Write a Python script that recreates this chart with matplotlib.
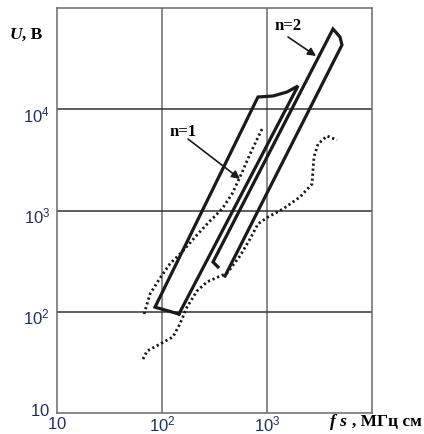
import matplotlib.pyplot as plt
import matplotlib.transforms as mtransforms
import numpy as np

# breakdown region n=1 (closed outline)
n1_fs = [145, 85.8, 820, 1141, 1549, 1972, 145]
n1_u = [95, 111, 13210, 13520, 14800, 16980, 95]

# breakdown region n=2 (open at the bottom)
n2_fs = [341, 306, 4252, 4955, 5176, 398]
n2_u = [277, 310, 62100, 51740, 43150, 225]

# dotted boundary, upper-left
d1_fs = [67.5, 76.9, 95.7, 119, 158, 215, 286, 373, 464, 553, 689, 896]
d1_u = [95, 150, 215, 297, 398, 573, 787, 1035, 1455, 2140, 3610, 6380]

# dotted boundary, lower-right
d2_fs = [65.9, 72, 95.7, 127, 148, 173, 215, 268, 357, 416, 553, 689, 820,
         1023, 1420, 2061, 2685, 2743, 2803, 3060, 3727, 4645]
d2_u = [34.1, 40.9, 48, 56.4, 75.7, 111, 160, 197, 225, 241, 355, 523, 736,
        863, 1035, 1360, 1826, 2572, 3375, 4536, 5445, 4965]

xticks = [10, 100, 1000]
xlabels = ['$10$', '$10^{2}$', '$10^{3}$']
yticks = [10, 100, 1000, 10000]
ylabels = ['$10$', '$10^{2}$', '$10^{3}$', '$10^{4}$']

plt.rcParams['mathtext.fontset'] = 'custom'
plt.rcParams['mathtext.rm'] = 'Liberation Sans'
plt.rcParams['mathtext.it'] = 'Liberation Sans:italic'

W, H = 424, 435
fig = plt.figure(figsize=(W / 100, H / 100), dpi=100)
ax = fig.add_axes([57 / W, 1 - 414 / H, 315 / W, 405 / H])
ax.set_xscale('log')
ax.set_yscale('log')
ax.set_xlim(10, 1e4)
ax.set_ylim(10, 1e5)

for v in [100, 1000]:
    ax.axvline(v, color='#6a6a6a', lw=1.1, zorder=1)
for v in [100, 1000, 10000]:
    ax.axhline(v, color='#333333', lw=1.1, zorder=1)
for s in ax.spines.values():
    s.set_color('#6a6a6a')
    s.set_linewidth(1.1)

ax.plot(n1_fs, n1_u, color='#1a1a1a', lw=2.3, solid_joinstyle='miter', zorder=3)
ax.plot(n2_fs, n2_u, color='#1a1a1a', lw=2.3, solid_joinstyle='miter', zorder=3)
ax.plot(d1_fs, d1_u, color='#1a1a1a', lw=2.0, ls=(0, (0.8, 1.0)), zorder=2)
ax.plot(d2_fs, d2_u, color='#1a1a1a', lw=2.0, ls=(0, (0.8, 1.0)), zorder=2)

arrow = dict(arrowstyle='-|>', color='#1a1a1a', lw=1.2, mutation_scale=12,
             shrinkA=0, shrinkB=0)
ax.text(158, 6095, 'n=1', ha='center', va='center', fontsize=12,
        fontweight='bold', family='Liberation Serif')
ax.annotate('', xy=(553, 2048), xytext=(177, 5080), arrowprops=arrow)
ax.text(1585, 67900, 'n=2', ha='center', va='center', fontsize=12,
        fontweight='bold', family='Liberation Serif')
ax.annotate('', xy=(2931, 33580), xytext=(1585, 51770), arrowprops=arrow)

ax.tick_params(length=0, labelsize=12, labelcolor='#22305e')
ax.tick_params(axis='x', pad=1)
ax.tick_params(axis='y', pad=5)
ax.set_xticks(xticks, xlabels)
ax.set_yticks(yticks, ylabels)
ax.minorticks_off()

# nudge the lowest y label up, the powered ones slightly down
for lab, dy in zip(ax.get_yticklabels(), [5, -4, -4, -4]):
    lab.set_transform(lab.get_transform() +
                      mtransforms.ScaledTranslation(0, dy / 100, fig.dpi_scale_trans))

fig.text(10 / W, 1 - 35 / H, 'U', fontsize=12.5, fontweight='bold',
         style='italic', family='Liberation Serif', va='center', ha='left')
fig.text(22 / W, 1 - 35 / H, ', В', fontsize=12.5, fontweight='bold',
         family='Liberation Serif', va='center', ha='left')
fig.text(347 / W, 1 - 422 / H, 'f s', fontsize=12.5, fontweight='bold',
         style='italic', family='Liberation Serif', va='center', ha='right')
fig.text(422 / W, 1 - 422 / H, ', МГц см', fontsize=12.5, fontweight='bold',
         family='Liberation Serif', va='center', ha='right')

fig.savefig('out.png', dpi=100)
